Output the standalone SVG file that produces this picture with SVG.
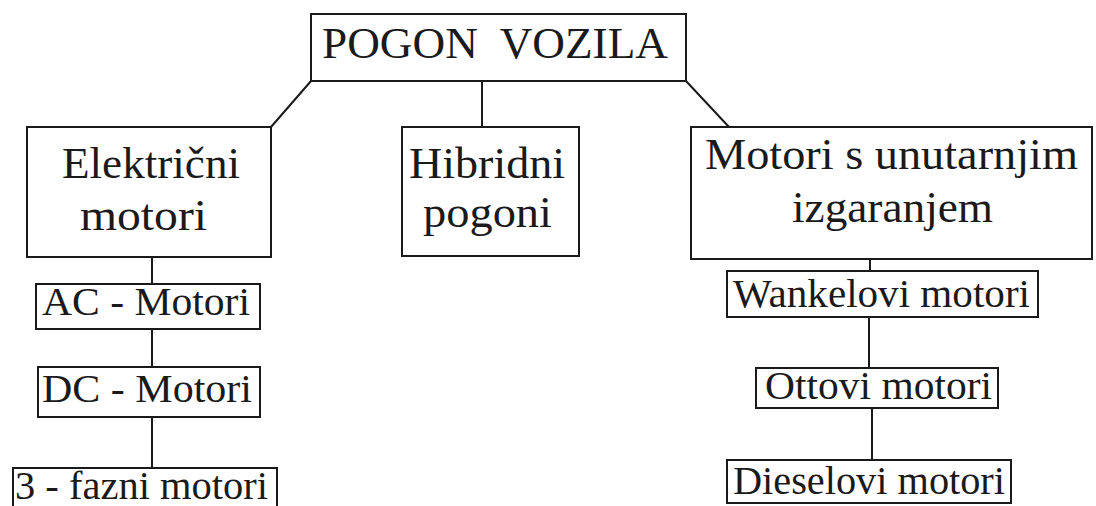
<svg xmlns="http://www.w3.org/2000/svg" width="1096" height="506" viewBox="0 0 1096 506">
<style>
.box{fill:#fff;stroke:#1a1a1a;stroke-width:2}
.ln{stroke:#1a1a1a;stroke-width:2;fill:none}
text{font-family:"Liberation Serif","Times New Roman",serif;fill:#1a1a1a}
.big{font-size:45px}
.sm{font-size:41px}
</style>
<rect width="1096" height="506" fill="#fff"/>
<g id="connectors">
<line class="ln" x1="311" y1="81" x2="271" y2="127"/>
<line class="ln" x1="482" y1="81" x2="482" y2="127"/>
<line class="ln" x1="686" y1="81" x2="729" y2="127"/>
<line class="ln" x1="152" y1="257" x2="152" y2="284"/>
<line class="ln" x1="152" y1="329" x2="152" y2="367"/>
<line class="ln" x1="152" y1="417" x2="152" y2="468"/>
<line class="ln" x1="870" y1="259" x2="870" y2="271"/>
<line class="ln" x1="869" y1="317" x2="869" y2="368"/>
<line class="ln" x1="872" y1="408" x2="872" y2="460"/>
</g>
<g id="pogon-vozila">
<rect class="box" x="311" y="14" width="375" height="67"/>
<text class="big" x="322" y="58" textLength="346" lengthAdjust="spacingAndGlyphs" xml:space="preserve">POGON  VOZILA</text>
</g>
<g id="elektricni">
<rect class="box" x="27" y="127" width="244" height="130"/>
<text class="big" x="62" y="178" textLength="178" lengthAdjust="spacingAndGlyphs">Električni</text>
<text class="big" x="80" y="230" textLength="127" lengthAdjust="spacingAndGlyphs">motori</text>
</g>
<g id="hibridni">
<rect class="box" x="402" y="127" width="177" height="129"/>
<text class="big" x="409" y="178" textLength="156" lengthAdjust="spacingAndGlyphs">Hibridni</text>
<text class="big" x="423" y="227" textLength="129" lengthAdjust="spacingAndGlyphs">pogoni</text>
</g>
<g id="motori-izgaranje">
<rect class="box" x="691" y="127" width="401" height="132"/>
<text class="big" x="705" y="169" textLength="373" lengthAdjust="spacingAndGlyphs">Motori s unutarnjim</text>
<text class="big" x="792" y="222" textLength="201" lengthAdjust="spacingAndGlyphs">izgaranjem</text>
</g>
<g id="ac-motori">
<rect class="box" x="36" y="284" width="224" height="45"/>
<text class="sm" x="42" y="315" textLength="208" lengthAdjust="spacingAndGlyphs">AC - Motori</text>
</g>
<g id="dc-motori">
<rect class="box" x="38" y="367" width="222" height="50"/>
<text class="sm" x="42" y="402" textLength="210" lengthAdjust="spacingAndGlyphs">DC - Motori</text>
</g>
<g id="fazni-motori">
<rect class="box" x="13" y="468" width="264" height="44"/>
<text class="sm" x="15" y="499" textLength="253" lengthAdjust="spacingAndGlyphs">3 - fazni motori</text>
</g>
<g id="wankelovi">
<rect class="box" x="727" y="271" width="311" height="46"/>
<text class="sm" x="733" y="307" textLength="297" lengthAdjust="spacingAndGlyphs">Wankelovi motori</text>
</g>
<g id="ottovi">
<rect class="box" x="756" y="368" width="242" height="40"/>
<text class="sm" x="765" y="399" textLength="227" lengthAdjust="spacingAndGlyphs">Ottovi motori</text>
</g>
<g id="dieselovi">
<rect class="box" x="727" y="460" width="284" height="43"/>
<text class="sm" x="733" y="494" textLength="272" lengthAdjust="spacingAndGlyphs">Dieselovi motori</text>
</g>
</svg>
